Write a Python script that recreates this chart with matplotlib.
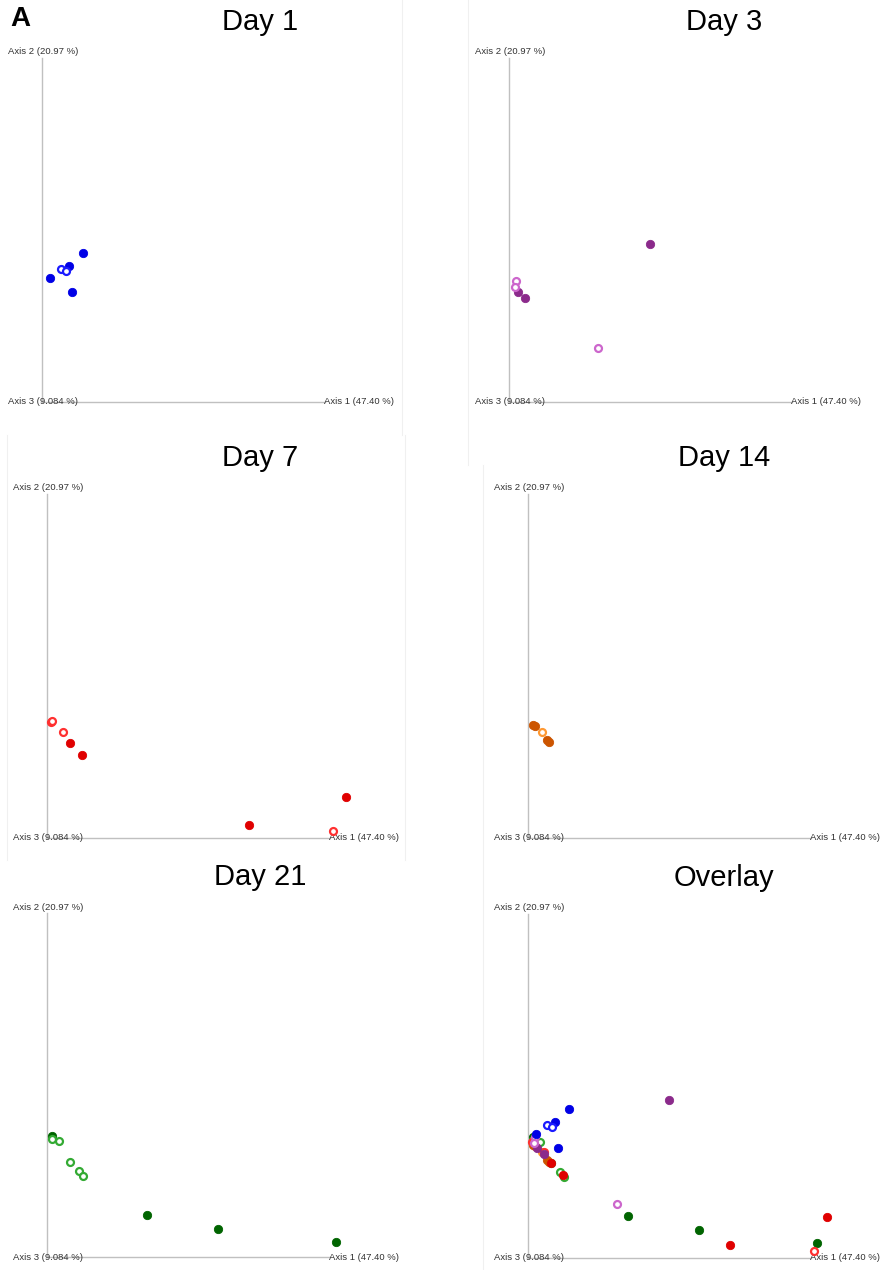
import matplotlib
matplotlib.use("Agg")
import matplotlib.pyplot as plt

plt.rcParams['font.family'] = ['Liberation Sans', 'DejaVu Sans']

W, H = 883, 1270

# PCoA coordinates (screen units relative to the axis origin)
day1_filled_x = [8, 27, 41, 30]
day1_filled_y = [124, 136, 149, 110]
day1_open_x = [19, 24]
day1_open_y = [133, 131]

day3_filled_x = [141, 9, 16]
day3_filled_y = [158, 110, 104]
day3_open_x = [7, 6, 89]
day3_open_y = [121, 115, 54]

day7_filled_x = [23, 35, 202, 299]
day7_filled_y = [95, 83, 13, 41]
day7_open_x = [4, 5, 16, 286]
day7_open_y = [116, 117, 106, 7]

day14_filled_x = [5, 7, 21, 19]
day14_filled_y = [113, 112, 96, 98]
day14_open_x = [14]
day14_open_y = [106]

day21_filled_x = [5, 100, 171, 289]
day21_filled_y = [121, 42, 28, 15]
day21_open_x = [5, 12, 23, 32, 36]
day21_open_y = [118, 116, 95, 86, 81]

groups = {
    'Day 1': (day1_filled_x, day1_filled_y, day1_open_x, day1_open_y, '#0000e6', '#1a1aff'),
    'Day 3': (day3_filled_x, day3_filled_y, day3_open_x, day3_open_y, '#8b2a8b', '#cc66cc'),
    'Day 7': (day7_filled_x, day7_filled_y, day7_open_x, day7_open_y, '#e00000', '#ff3030'),
    'Day 14': (day14_filled_x, day14_filled_y, day14_open_x, day14_open_y, '#cc5500', '#ff9933'),
    'Day 21': (day21_filled_x, day21_filled_y, day21_open_x, day21_open_y, '#006400', '#33aa33'),
}

# panel title, origin of the axes in pixels
panels = [
    ('Day 1', 42, 402),
    ('Day 3', 509, 402),
    ('Day 7', 47, 838),
    ('Day 14', 528, 838),
    ('Day 21', 47, 1257),
    ('Overlay', 528, 1258),
]

fig = plt.figure(figsize=(W / 100, H / 100), dpi=100)
fig.patch.set_facecolor('white')


def draw_group(ax, name):
    fx, fy, ox, oy, cf, co = groups[name]
    ax.plot(fx, fy, 'o', ms=6, color=cf, mec=cf, mew=0.6, zorder=3)
    ax.plot(ox, oy, 'o', ms=5, mfc='white', mec=co, mew=1.6, zorder=3)


for title, ox, oy in panels:
    ax = fig.add_axes([(ox - 40) / W, 1 - (oy + 15) / H, 400 / W, 395 / H])
    ax.set_xlim(-40, 360)
    ax.set_ylim(-15, 380)
    ax.axis('off')

    # axis lines
    ax.plot([0, 283], [0, 0], color='#c0c0c0', lw=1, zorder=1)
    ax.plot([0, 0], [0, 344], color='#c0c0c0', lw=1, zorder=1)
    ax.text(-34, 350, 'Axis 2 (20.97 %)', fontsize=6.8, color='#333333', va='center')
    ax.text(-34, 0, 'Axis 3 (9.084 %)', fontsize=6.8, color='#333333', va='center')
    ax.text(282, 0, 'Axis 1 (47.40 %)', fontsize=6.8, color='#333333', va='center')

    if title == 'Overlay':
        for name in ['Day 21', 'Day 14', 'Day 7', 'Day 3', 'Day 1']:
            draw_group(ax, name)
    else:
        draw_group(ax, title)

    cx = 260 if ox < 300 else 724
    fig.text(cx / W, 1 - (oy - 380) / H, title, fontsize=21, ha='center', va='center')

# faint panel borders
border = '#f0f0f0'
fig.add_artist(plt.Line2D([402 / W, 402 / W], [1 - 0 / H, 1 - 435 / H], color=border, lw=0.8))
fig.add_artist(plt.Line2D([405 / W, 405 / W], [1 - 435 / H, 1 - 860 / H], color=border, lw=0.8))
fig.add_artist(plt.Line2D([468 / W, 468 / W], [1 - 0 / H, 1 - 465 / H], color=border, lw=0.8))
fig.add_artist(plt.Line2D([483 / W, 483 / W], [1 - 465 / H, 1 - 1270 / H], color=border, lw=0.8))
fig.add_artist(plt.Line2D([7 / W, 7 / W], [1 - 435 / H, 1 - 860 / H], color=border, lw=0.8))

fig.text(20 / W, 1 - 19 / H, 'A', fontsize=20, fontweight='bold', ha='center', va='center')

fig.savefig('out.png', dpi=100, facecolor='white')
